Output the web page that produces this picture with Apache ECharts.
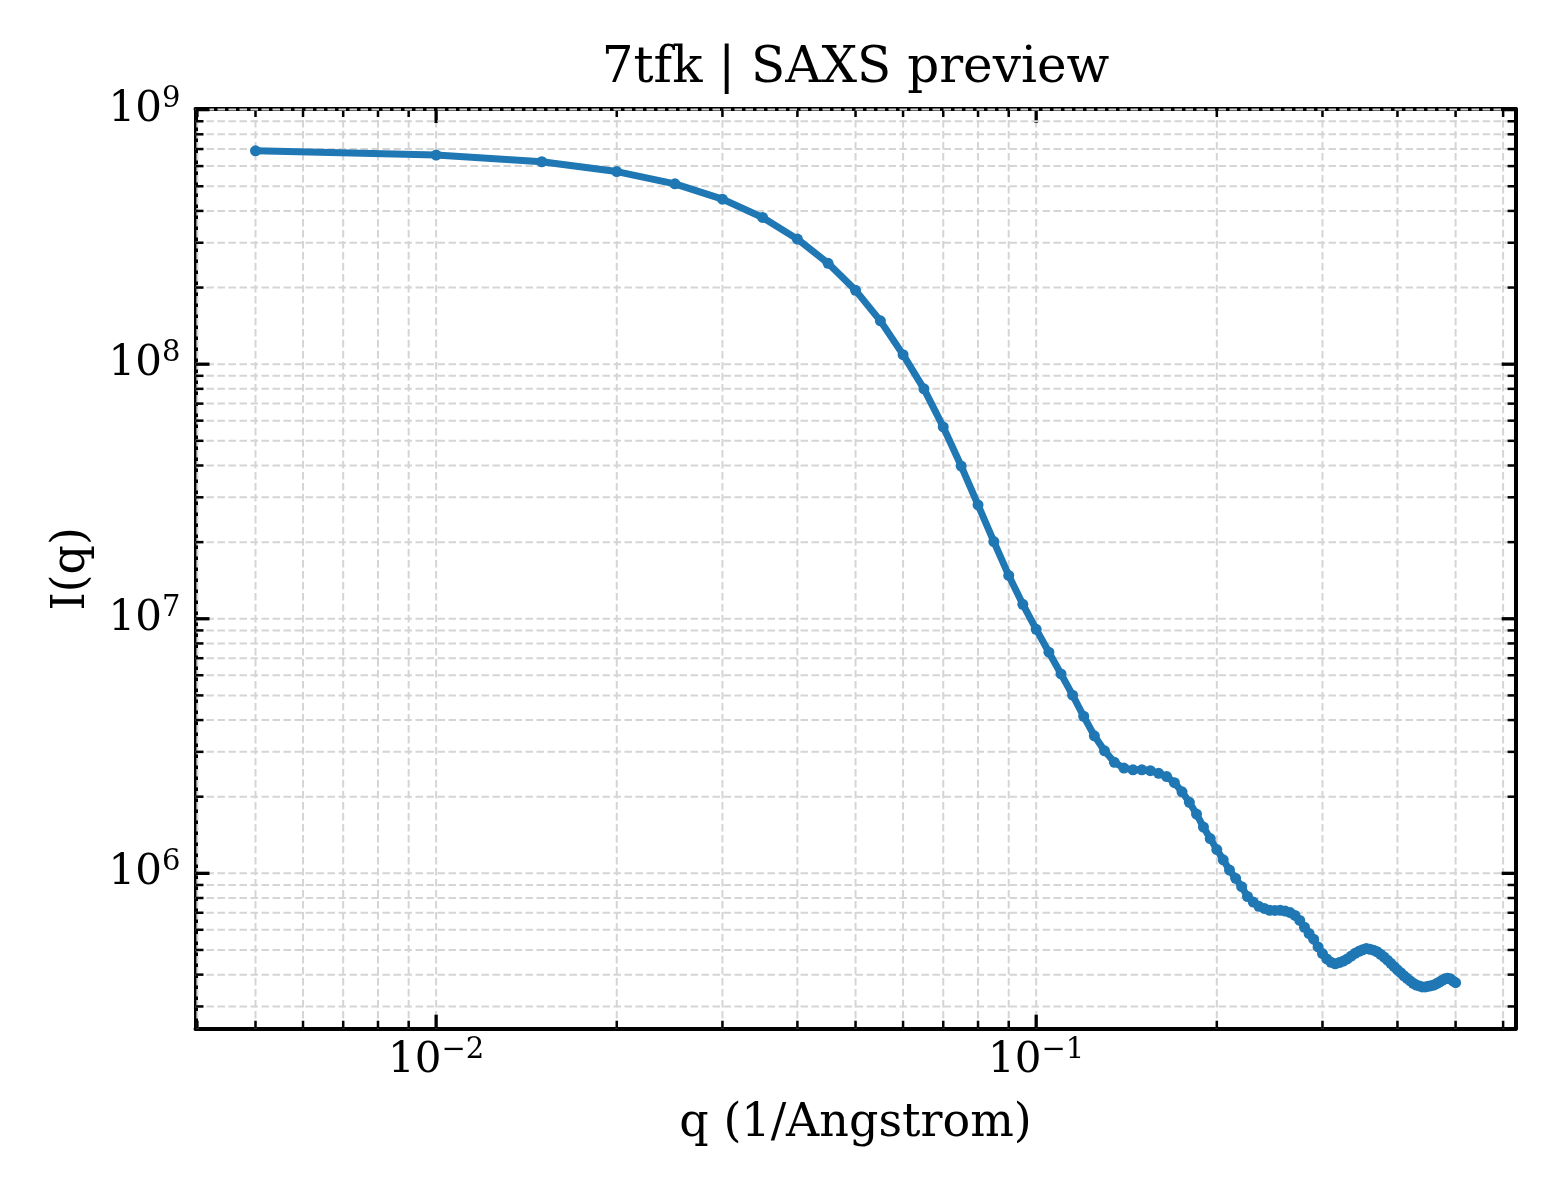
<!DOCTYPE html>
<html><head><meta charset="utf-8">
<script src="https://cdn.jsdelivr.net/npm/echarts@6/dist/echarts.min.js"></script>
<style>html,body{margin:0;padding:0;background:#fff}#c{width:1560px;height:1200px}</style>
</head><body><div id="c"></div>
<script>
const q = [0.005,0.010,0.015,0.020,0.025,0.030,0.035,0.040,0.045,0.050,
0.055,0.060,0.065,0.070,0.075,0.080,0.085,0.090,0.095,0.100,
0.105,0.110,0.115,0.120,0.125,0.130,0.135,0.140,0.145,0.150,
0.155,0.160,0.165,0.170,0.175,0.180,0.185,0.190,0.195,0.200,
0.205,0.210,0.215,0.220,0.225,0.230,0.235,0.240,0.245,0.250,
0.255,0.260,0.265,0.270,0.275,0.280,0.285,0.290,0.295,0.300,
0.305,0.310,0.315,0.320,0.325,0.330,0.335,0.340,0.345,0.350,
0.355,0.360,0.365,0.370,0.375,0.380,0.385,0.390,0.395,0.400,
0.405,0.410,0.415,0.420,0.425,0.430,0.435,0.440,0.445,0.450,
0.455,0.460,0.465,0.470,0.475,0.480,0.485,0.490,0.495,0.500];
const intensity = [6.89e8,6.63e8,6.24e8,5.71e8,5.11e8,4.45e8,3.77e8,3.10e8,2.49e8,1.95e8,
1.48e8,1.09e8,8.0e7,5.67e7,3.98e7,2.80e7,2.01e7,1.48e7,1.14e7,9.09e6,
7.39e6,6.07e6,5.01e6,4.14e6,3.47e6,3.03e6,2.73e6,2.59e6,2.55e6,2.55e6,
2.53e6,2.47e6,2.40e6,2.27e6,2.09e6,1.90e6,1.71e6,1.52e6,1.37e6,1.24e6,
1.13e6,1.03e6,9.56e5,8.86e5,8.11e5,7.71e5,7.42e5,7.28e5,7.16e5,7.15e5,
7.16e5,7.11e5,7.01e5,6.83e5,6.53e5,6.14e5,5.80e5,5.51e5,5.14e5,4.84e5,
4.61e5,4.47e5,4.41e5,4.46e5,4.52e5,4.61e5,4.73e5,4.85e5,4.94e5,5.01e5,
5.07e5,5.03e5,4.99e5,4.92e5,4.81e5,4.69e5,4.56e5,4.43e5,4.30e5,4.18e5,
4.07e5,3.96e5,3.87e5,3.78e5,3.70e5,3.64e5,3.61e5,3.58e5,3.58e5,3.60e5,
3.62e5,3.64e5,3.69e5,3.74e5,3.80e5,3.85e5,3.87e5,3.85e5,3.78e5,3.72e5];
const xMajorTicks = [0.01, 0.1];
const xMinorTicks = [0.004,0.005,0.006,0.007,0.008,0.009,0.02,0.03,0.04,0.05,0.06,0.07,0.08,0.09,0.2,0.3,0.4,0.5,0.6];
const yMajorTicks = [1e6, 1e7, 1e8, 1e9];
const yMinorTicks = [3e5,4e5,5e5,6e5,7e5,8e5,9e5,2e6,3e6,4e6,5e6,6e6,7e6,8e6,9e6,
2e7,3e7,4e7,5e7,6e7,7e7,8e7,9e7,2e8,3e8,4e8,5e8,6e8,7e8,8e8,9e8];

const FONT = 'DejaVu Serif';
function logRange(arr) {
  const l = arr.map(Math.log10);
  const lo = Math.min(...l), hi = Math.max(...l), m = (hi - lo) * 0.05;
  return [Math.pow(10, lo - m), Math.pow(10, hi + m)];
}
const [xMin, xMax] = logRange(q);
const [yMin, yMax] = logRange(intensity);

function sci(v) {
  const e = Math.log10(v), r = Math.round(e);
  if (Math.abs(e - r) > 1e-6) return '';
  return '{b|10}{s|' + (r < 0 ? '\u2212' + (-r) : String(r)) + '}';
}
const labelRich = {
  b: {fontSize: 42, fontFamily: FONT, color: '#000', lineHeight: 50},
  s: {fontSize: 29, fontFamily: FONT, color: '#000', lineHeight: 29, verticalAlign: 'top'}
};
const gridStyle = {stroke: '#d5d5d5', lineWidth: 2, lineDash: [7.5, 3.5]};
const tickStyle = (major) => ({stroke: '#000', lineWidth: major ? 3.3 : 2.5});
const spine = {show: true, onZero: false, lineStyle: {color: '#000', width: 4}};
const nameStyle = {fontFamily: FONT, fontSize: 46, color: '#000'};

const chart = echarts.init(document.getElementById('c'), null, {renderer: 'canvas'});
chart.setOption({
  animation: false,
  backgroundColor: '#fff',
  title: {
    text: '7tfk | SAXS preview', left: 855.5, top: 44, padding: 0, textAlign: 'center',
    textStyle: {fontFamily: FONT, fontSize: 50, fontWeight: 'normal', color: '#000'}
  },
  grid: {left: 195.5, right: 44.4, top: 109, bottom: 171.3, show: false, outerBoundsMode: 'none'},
  xAxis: [{
    type: 'log', logBase: 10, min: xMin, max: xMax, position: 'bottom',
    name: 'q (1/Angstrom)', nameLocation: 'middle', nameGap: 72, nameTextStyle: nameStyle,
    axisLine: spine, axisTick: {show: false}, splitLine: {show: false}, minorTick: {show: false},
    axisLabel: {formatter: sci, rich: labelRich, margin: 7, interval: 0, hideOverlap: false}
  }, {
    type: 'log', logBase: 10, min: xMin, max: xMax, position: 'top',
    axisLine: spine, axisTick: {show: false}, splitLine: {show: false}, minorTick: {show: false},
    axisLabel: {show: false}
  }],
  yAxis: [{
    type: 'log', logBase: 10, min: yMin, max: yMax, position: 'left',
    name: 'I(q)', nameLocation: 'middle', nameGap: 100, nameRotate: 90, nameTextStyle: nameStyle,
    axisLine: spine, axisTick: {show: false}, splitLine: {show: false}, minorTick: {show: false},
    axisLabel: {formatter: sci, rich: labelRich, margin: 15, interval: 0, hideOverlap: false}
  }, {
    type: 'log', logBase: 10, min: yMin, max: yMax, position: 'right',
    axisLine: spine, axisTick: {show: false}, splitLine: {show: false}, minorTick: {show: false},
    axisLabel: {show: false}
  }],
  series: [
    {
      type: 'custom', silent: true, z: 1, clip: false,
      encode: {x: 0, y: 1},
      data: xMajorTicks.map(v => [v, 1e7, 1]).concat(xMinorTicks.map(v => [v, 1e7, 0])),
      renderItem: function (params, api) {
        const cs = params.coordSys;
        const major = api.value(2) === 1;
        const px = api.coord([api.value(0), api.value(1)])[0];
        const len = major ? 14 : 8;
        const top = cs.y, bot = cs.y + cs.height;
        return {type: 'group', children: [
          {type: 'line', shape: {x1: px, y1: top, x2: px, y2: bot}, style: gridStyle},
          {type: 'line', shape: {x1: px, y1: bot, x2: px, y2: bot - len}, style: tickStyle(major)},
          {type: 'line', shape: {x1: px, y1: top, x2: px, y2: top + len}, style: tickStyle(major)}
        ]};
      }
    },
    {
      type: 'custom', silent: true, z: 1, clip: false,
      encode: {x: 0, y: 1},
      data: yMajorTicks.map(v => [0.05, v, 1]).concat(yMinorTicks.map(v => [0.05, v, 0])),
      renderItem: function (params, api) {
        const cs = params.coordSys;
        const major = api.value(2) === 1;
        const py = api.coord([api.value(0), api.value(1)])[1];
        const len = major ? 14 : 8;
        const l = cs.x, r = cs.x + cs.width;
        return {type: 'group', children: [
          {type: 'line', shape: {x1: l, y1: py, x2: r, y2: py}, style: gridStyle},
          {type: 'line', shape: {x1: l, y1: py, x2: l + len, y2: py}, style: tickStyle(major)},
          {type: 'line', shape: {x1: r, y1: py, x2: r - len, y2: py}, style: tickStyle(major)}
        ]};
      }
    },
    {
      type: 'line', z: 3, data: q.map((v, i) => [v, intensity[i]]),
      symbol: 'circle', symbolSize: 11, showAllSymbol: true, smooth: false,
      lineStyle: {width: 7, color: '#1f77b4', join: 'round', cap: 'round'},
      itemStyle: {color: '#1f77b4'}
    }
  ]
});
</script></body></html>
